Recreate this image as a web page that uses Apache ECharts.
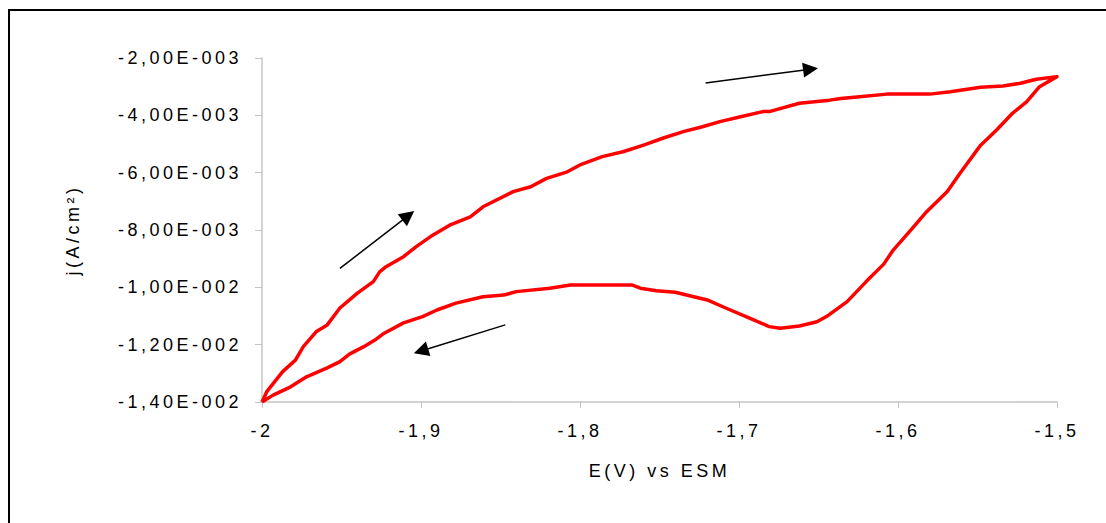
<!DOCTYPE html>
<html>
<head>
<meta charset="utf-8">
<title>Voltammogramme</title>
<script src="https://cdn.jsdelivr.net/npm/echarts@6/dist/echarts.min.js"></script>
<style>
  html, body { margin: 0; padding: 0; background: #fff; }
  #chart { width: 1106px; height: 523px; }
  /* spaced-out lettering of the original (svg renderer lets css reach the text) */
  #chart text { letter-spacing: 3.5px; }
</style>
</head>
<body>
<div id="chart"></div>
<script>
// potential (V vs ESM), forward scan then back, in drawing order
const E_FWD = [-2.000, -1.997, -1.992, -1.987, -1.979, -1.974, -1.966, -1.959, -1.951, -1.940,
  -1.930, -1.926, -1.922, -1.911, -1.903, -1.894, -1.882, -1.869, -1.861, -1.842,
  -1.831, -1.821, -1.808, -1.800, -1.786, -1.773, -1.760, -1.748, -1.735, -1.723,
  -1.712, -1.699, -1.685, -1.681, -1.662, -1.643, -1.636, -1.624, -1.607, -1.580,
  -1.567, -1.548, -1.534, -1.523, -1.513, -1.500]
const J_FWD = [-0.01400, -0.01364, -0.01329, -0.01294, -0.01254, -0.01207, -0.01155, -0.01131, -0.01072, -0.01020,
  -0.00980, -0.00946, -0.00928, -0.00893, -0.00858, -0.00823, -0.00783, -0.00754, -0.00719, -0.00666,
  -0.00649, -0.00620, -0.00597, -0.00573, -0.00544, -0.00527, -0.00504, -0.00480, -0.00457, -0.00440,
  -0.00422, -0.00405, -0.00387, -0.00387, -0.00358, -0.00347, -0.00341, -0.00335, -0.00326, -0.00326,
  -0.00318, -0.00302, -0.00298, -0.00288, -0.00274, -0.00265]

const E_BACK = [-1.511, -1.519, -1.528, -1.538, -1.548, -1.561, -1.569, -1.582, -1.591, -1.603,
  -1.609, -1.620, -1.632, -1.645, -1.651, -1.662, -1.674, -1.681, -1.693, -1.708,
  -1.720, -1.733, -1.740, -1.752, -1.762, -1.767, -1.806, -1.819, -1.840, -1.848,
  -1.861, -1.878, -1.890, -1.899, -1.911, -1.924, -1.929, -1.936, -1.945, -1.951,
  -1.959, -1.972, -1.982, -1.993, -2.000]
const J_BACK = [-0.00300, -0.00352, -0.00393, -0.00451, -0.00504, -0.00602, -0.00666, -0.00736, -0.00794, -0.00870,
  -0.00919, -0.00980, -0.01050, -0.01102, -0.01120, -0.01135, -0.01143, -0.01137, -0.01108, -0.01073,
  -0.01044, -0.01027, -0.01017, -0.01012, -0.01003, -0.00992, -0.00992, -0.01003, -0.01015, -0.01027,
  -0.01033, -0.01055, -0.01079, -0.01102, -0.01124, -0.01163, -0.01184, -0.01207, -0.01233, -0.01259,
  -0.01281, -0.01312, -0.01347, -0.01376, -0.01400]

// scan direction arrows: [tail, head] in data units
const ARROWS = [
  [[-1.951, -0.00934], [-1.908, -0.00750]],
  [[-1.721, -0.00287], [-1.655, -0.00239]],
  [[-1.847, -0.01131], [-1.900, -0.01222]]
]

const X_NAME = 'E(V) vs ESM'
const Y_NAME = 'j(A/cm²)'

const FONT = 'Liberation Sans, Arial, sans-serif'

// -0.012 -> "-1,20E-002"
function sci (v) {
  if (Math.abs(v) < 1e-12) return '0,00E+000'
  let e = Math.floor(Math.log10(Math.abs(v)) + 1e-9)
  let m = v / Math.pow(10, e)
  if (Math.abs(Number(m.toFixed(2))) >= 10) { e += 1; m = v / Math.pow(10, e) }
  const sign = e < 0 ? '-' : '+'
  return m.toFixed(2).replace('.', ',') + 'E' + sign + String(Math.abs(e)).padStart(3, '0')
}

const curve = E_FWD.map((x, i) => [x, J_FWD[i]])
  .concat(E_BACK.map((x, i) => [x, J_BACK[i]]))

const chart = echarts.init(document.getElementById('chart'), null, { renderer: 'svg' })

chart.setOption({
  animation: false,
  backgroundColor: '#fff',
  textStyle: { fontFamily: FONT },
  graphic: [{
    type: 'rect',
    shape: { x: 9, y: 10, width: 1200, height: 600 },
    style: { fill: 'none', stroke: '#000', lineWidth: 2 },
    silent: true
  }],
  grid: { left: 262, right: 49, top: 58, bottom: 121, containLabel: false },
  xAxis: {
    type: 'value',
    min: -2, max: -1.5, interval: 0.1,
    name: X_NAME,
    nameLocation: 'middle',
    nameGap: 60,
    nameTextStyle: { color: '#000', fontSize: 18, fontFamily: FONT },
    axisLine: { onZero: false, lineStyle: { color: '#c4c4c4', width: 1.5 } },
    axisTick: { show: true, length: 6, lineStyle: { color: '#c4c4c4' } },
    axisLabel: {
      color: '#000', fontSize: 18, margin: 20, fontFamily: FONT,
      formatter: v => {
        const r = Math.round(v * 10) / 10
        return Number.isInteger(r) ? String(r) : r.toFixed(1).replace('.', ',')
      }
    },
    splitLine: { show: false }
  },
  yAxis: {
    type: 'value',
    min: -0.014, max: -0.002, interval: 0.002,
    name: Y_NAME,
    nameLocation: 'middle',
    nameGap: 180,
    nameTextStyle: { color: '#000', fontSize: 18, fontFamily: FONT },
    axisLine: { show: true, onZero: false, lineStyle: { color: '#c4c4c4', width: 1.5 } },
    axisTick: { show: true, length: 7, lineStyle: { color: '#c4c4c4' } },
    axisLabel: { color: '#000', fontSize: 18, margin: 20, fontFamily: FONT, formatter: v => sci(v) },
    splitLine: { show: false }
  },
  series: [
    {
      name: 'j',
      type: 'line',
      data: curve,
      showSymbol: false,
      smooth: false,
      lineStyle: { color: '#ff0000', width: 3.5, join: 'round' },
      z: 3
    },
    {
      type: 'lines',
      coordinateSystem: 'cartesian2d',
      symbol: ['none', 'triangle'],
      symbolSize: 15,
      lineStyle: { color: '#000', width: 1.5, opacity: 1 },
      data: ARROWS.map(a => ({ coords: a })),
      z: 4
    }
  ]
})
</script>
</body>
</html>
